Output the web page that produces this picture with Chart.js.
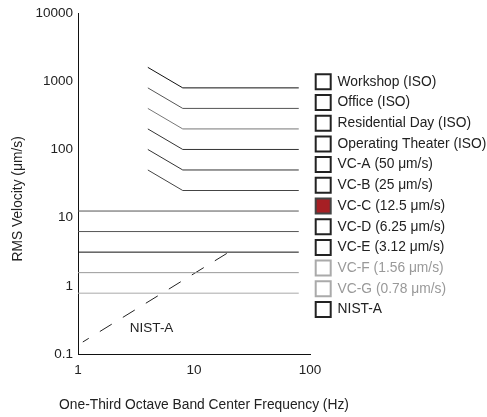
<!DOCTYPE html>
<html>
<head>
<meta charset="utf-8">
<script src="https://cdn.jsdelivr.net/npm/chart.js@4.4.1/dist/chart.umd.min.js"></script>
<style>
  html, body { margin: 0; padding: 0; background: #fff; }
  #c { display: block; }
</style>
</head>
<body>
<canvas id="c" width="487" height="417"></canvas>
<script>
// ---- data ----
const seriesNames = [
  'Workshop (ISO)', 'Office (ISO)', 'Residential Day (ISO)', 'Operating Theater (ISO)',
  'VC-A (50 μm/s)', 'VC-B (25 μm/s)', 'VC-C (12.5 μm/s)', 'VC-D (6.25 μm/s)',
  'VC-E (3.12 μm/s)', 'VC-F (1.56 μm/s)', 'VC-G (0.78 μm/s)', 'NIST-A'
];
const isoFreq = [4, 8, 80];
const vcFreq = [1, 80];
const nistFreq = [1.1, 20];
const workshop = [1600, 800, 800];
const office = [800, 400, 400];
const residentialDay = [400, 200, 200];
const operatingTheater = [200, 100, 100];
const vcA = [100, 50, 50];
const vcB = [50, 25, 25];
const vcC = [12.5, 12.5];
const vcD = [6.25, 6.25];
const vcE = [3.12, 3.12];
const vcF = [1.56, 1.56];
const vcG = [0.78, 0.78];
const nistA = [0.15, 3.12];
const xTicks = [1, 10, 100];
const yTicks = [0.1, 1, 10, 100, 1000, 10000];
const xTitle = 'One-Third Octave Band Center Frequency (Hz)';
const yTitle = 'RMS Velocity (μm/s)';
const nistLabel = { text: 'NIST-A', x: 2.8, y: 0.24 };

// ---- styles ----
const lineColors = ['#111', '#555', '#777', '#333', '#333', '#444', '#555', '#555', '#111', '#999', '#aaa', '#222'];
const boxFill = ['#fff', '#fff', '#fff', '#fff', '#fff', '#fff', '#a61f24', '#fff', '#fff', '#fff', '#fff', '#fff'];
const boxStroke = ['#222', '#222', '#222', '#222', '#222', '#222', '#444', '#222', '#222', '#aaa', '#aaa', '#222'];
const textColors = ['#222', '#222', '#222', '#222', '#222', '#222', '#222', '#222', '#222', '#999', '#999', '#222'];
const FONT = '"Liberation Sans", Arial, Helvetica, sans-serif';

const seriesData = [
  [isoFreq, workshop], [isoFreq, office], [isoFreq, residentialDay], [isoFreq, operatingTheater],
  [isoFreq, vcA], [isoFreq, vcB], [vcFreq, vcC], [vcFreq, vcD], [vcFreq, vcE], [vcFreq, vcF], [vcFreq, vcG],
  [nistFreq, nistA]
];

const datasets = seriesData.map(([xs, ys], i) => ({
  label: seriesNames[i],
  data: xs.map((x, j) => ({ x: x, y: ys[j] })),
  borderColor: lineColors[i],
  backgroundColor: boxFill[i],
  borderWidth: 1,
  pointRadius: 0,
  tension: 0,
  fill: false,
  borderDash: i === 11 ? [14, 13] : [],
  borderDashOffset: i === 11 ? 7 : 0
}));

Chart.defaults.font.family = FONT;
Chart.defaults.font.size = 13.5;
Chart.defaults.color = '#222';

const textPlugin = {
  id: 'extraText',
  afterDraw(chart) {
    const ctx = chart.ctx;
    const xs = chart.scales.x, ys = chart.scales.y;
    ctx.save();
    ctx.fillStyle = '#222';
    // NIST-A annotation
    ctx.font = '13.5px ' + FONT;
    ctx.textAlign = 'left';
    ctx.textBaseline = 'middle';
    ctx.fillText(nistLabel.text, xs.getPixelForValue(nistLabel.x), ys.getPixelForValue(nistLabel.y));
    // x-axis title (wider than the plot, so drawn without compression)
    ctx.font = '13.8px ' + FONT;
    ctx.textAlign = 'center';
    ctx.fillText(xTitle, (xs.left + xs.right) / 2 + 10, xs.bottom - 12);
    ctx.restore();
  }
};

new Chart(document.getElementById('c'), {
  type: 'line',
  data: { datasets: datasets },
  plugins: [textPlugin],
  options: {
    responsive: false,
    devicePixelRatio: 1,
    animation: false,
    layout: { padding: { top: 10, right: 0, bottom: 0, left: 0 } },
    plugins: {
      tooltip: { enabled: false },
      legend: {
        position: 'right',
        align: 'start',
        maxWidth: 177,
        title: { display: true, text: '', padding: { top: 43, bottom: 0 }, font: { size: 13 } },
        labels: {
          boxWidth: 15,
          boxHeight: 15,
          padding: 5.7,
          font: { size: 13.8 },
          generateLabels: (chart) => seriesNames.map((name, i) => ({
            text: name,
            fillStyle: boxFill[i],
            strokeStyle: boxStroke[i],
            lineWidth: 2,
            lineJoin: 'miter',
            fontColor: textColors[i],
            hidden: false,
            datasetIndex: i
          }))
        }
      }
    },
    scales: {
      x: {
        type: 'logarithmic',
        min: 1,
        max: 100,
        grid: { display: false, drawTicks: false },
        border: { display: true, color: '#111', width: 1 },
        afterBuildTicks: (scale) => { scale.ticks = xTicks.map(v => ({ value: v })); },
        afterFit: (scale) => { scale.height = 63; },
        ticks: { padding: 8, color: '#222', autoSkip: false, maxRotation: 0, callback: (v) => String(v) },
        title: { display: false }
      },
      y: {
        type: 'logarithmic',
        min: 0.1,
        max: 10000,
        grid: { display: false, drawTicks: false },
        border: { display: true, color: '#111', width: 1 },
        afterBuildTicks: (scale) => { scale.ticks = yTicks.map(v => ({ value: v })); },
        ticks: { padding: 5, color: '#222', autoSkip: false, callback: (v) => String(v) },
        title: {
          display: true,
          text: yTitle + '        ',
          color: '#222',
          font: { size: 13.8 },
          padding: { top: 10.2, bottom: 3.7 }
        }
      }
    }
  }
});
</script>
</body>
</html>
